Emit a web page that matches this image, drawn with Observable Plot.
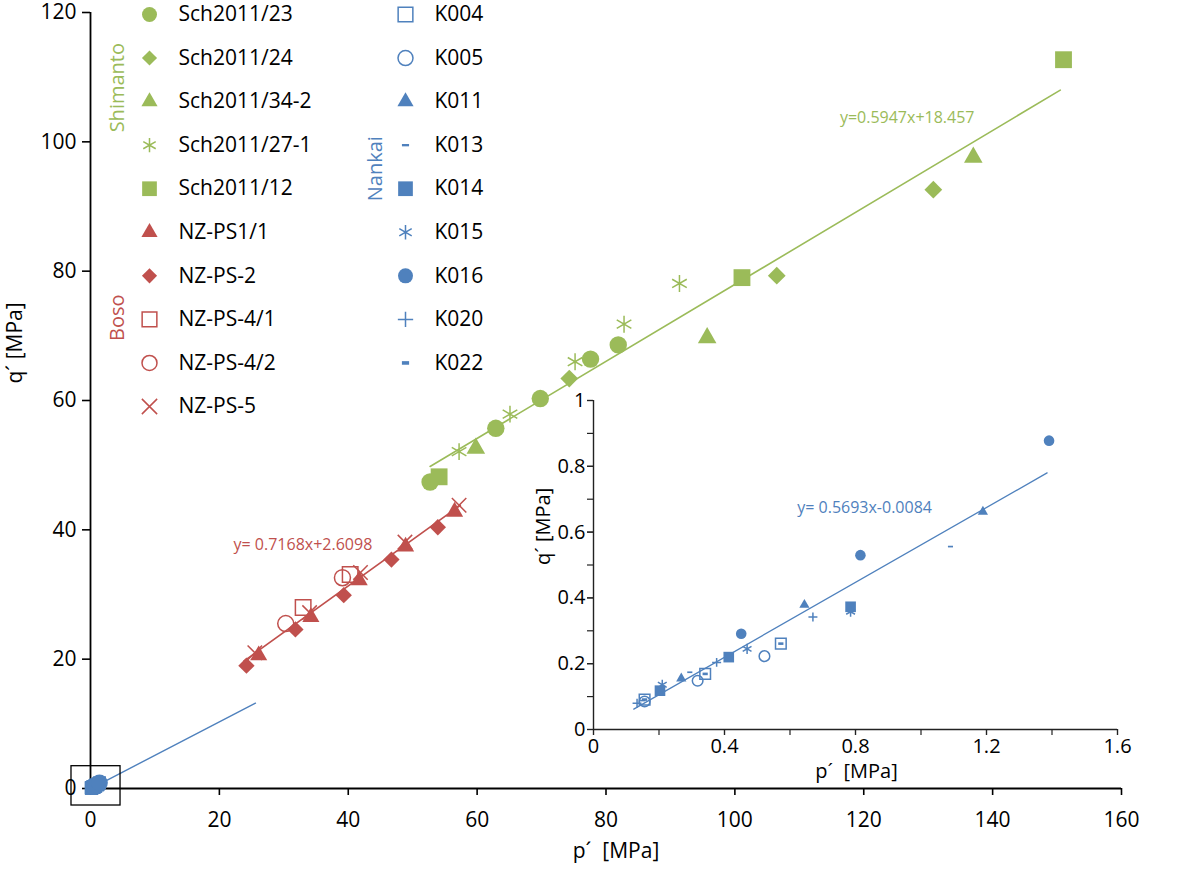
<!DOCTYPE html>
<html><head><meta charset="utf-8">
<script src="https://cdn.jsdelivr.net/npm/d3@7"></script>
<script src="https://cdn.jsdelivr.net/npm/@observablehq/plot@0.6"></script>
<style>
body{margin:0;background:#fff;}
#wrap{position:relative;width:1200px;height:869px;overflow:hidden;background:#fff;}
#wrap svg{position:absolute;overflow:visible;background:transparent;}
</style></head><body><div id="wrap"></div>
<script>
// ---------- data ----------
// Shimanto (p', q') in MPa
const sch2011_23   = [[52.7,47.4],[62.9,55.7],[69.8,60.3],[77.6,66.4],[81.9,68.6]];
const sch2011_24   = [[74.3,63.4],[106.5,79.3],[130.8,92.6]];
const sch2011_34_2 = [[59.8,52.6],[95.7,69.7],[137.0,97.6]];
const sch2011_27_1 = [[57.2,52.1],[65.1,57.9],[75.2,66.0],[82.8,71.8],[91.4,78.1]];
const sch2011_12   = [[54.1,48.2],[101.1,79.0],[151.0,112.7]];
// Boso
const nzps1_1  = [[26.1,20.6],[34.2,26.5],[41.7,32.2],[48.9,37.4],[56.5,42.8]];
const nzps_2   = [[24.2,19.0],[31.8,24.6],[39.3,29.9],[46.7,35.4],[53.9,40.4]];
const nzps_4_1 = [[33.0,28.0],[40.3,33.1]];
const nzps_4_2 = [[30.3,25.5],[39.1,32.6]];
const nzps_5   = [[25.5,21.0],[34.0,27.2],[41.9,33.4],[48.8,38.1],[57.2,43.8]];
// Nankai
const k004 = [[0.156,0.091],[0.341,0.169],[0.572,0.261]];
const k005 = [[0.156,0.085],[0.318,0.148],[0.522,0.223]];
const k011 = [[0.268,0.155],[0.644,0.379],[1.189,0.662]];
const k013 = [[0.150,0.088],[0.294,0.174],[1.090,0.556]];
const k014 = [[0.203,0.118],[0.413,0.220],[0.785,0.373]];
const k015 = [[0.210,0.136],[0.469,0.245],[0.785,0.358]];
const k016 = [[0.451,0.291],[0.815,0.530],[1.391,0.878]];
const k020 = [[0.133,0.080],[0.376,0.204],[0.670,0.342]];
const k022 = [[0.156,0.091],[0.341,0.169],[0.572,0.261]];

const seriesNames   = ["Sch2011/23","Sch2011/24","Sch2011/34-2","Sch2011/27-1","Sch2011/12",
                       "NZ-PS1/1","NZ-PS-2","NZ-PS-4/1","NZ-PS-4/2","NZ-PS-5",
                       "K004","K005","K011","K013","K014","K015","K016","K020","K022"];
const seriesGroups  = ["Shimanto","Shimanto","Shimanto","Shimanto","Shimanto",
                       "Boso","Boso","Boso","Boso","Boso",
                       "Nankai","Nankai","Nankai","Nankai","Nankai","Nankai","Nankai","Nankai","Nankai"];
const seriesSymbols = ["circle","diamond2","triangle","asterisk","square",
                       "triangle","diamond2","square","circle","times",
                       "square","circle","triangle","dash","square","asterisk","circle","plus","dashBold"];
const seriesFilled  = [true,true,true,false,true, true,true,false,false,false,
                       false,false,true,true,true,false,true,false,true];
const seriesData    = [sch2011_23,sch2011_24,sch2011_34_2,sch2011_27_1,sch2011_12,
                       nzps1_1,nzps_2,nzps_4_1,nzps_4_2,nzps_5,
                       k004,k005,k011,k013,k014,k015,k016,k020,k022];
const groupNames = ["Shimanto","Boso","Nankai"];

// trend lines (end points) and their equations
const trendShimanto   = [[52.7,49.8],[150.5,108.0]];
const trendBoso       = [[23.8,19.7],[57.4,43.8]];
const trendNankaiMain = [[2.6,1.3],[25.6,13.2]];
const trendNankaiInset= [[0.123,0.062],[1.385,0.780]];
const equations = ["y=0.5947x+18.457","y= 0.7168x+2.6098","y= 0.5693x-0.0084"];
const zoomBox = [[-2.95,-2.63,4.66,3.45]];

// axis ticks
const mainXTicks = [0,20,40,60,80,100,120,140,160];
const mainYTicks = [0,20,40,60,80,100,120];
const insetXTicks = [0,0.2,0.4,0.6,0.8,1.0,1.2,1.4,1.6];
const insetXLabelTicks = [0,0.4,0.8,1.2,1.6];
const insetYTicks = [0,0.1,0.2,0.3,0.4,0.5,0.6,0.7,0.8,0.9,1.0];
const insetYLabelTicks = [0,0.2,0.4,0.6,0.8,1.0];
const axisTitleX = "p´ \u00A0[MPa]";
const axisTitleY = "q´ [MPa]";

// ---------- styles ----------
const GREEN="#9BBB59", RED="#C0504D", BLUE="#4F81BD";
const groupColor = {Shimanto:GREEN, Boso:RED, Nankai:BLUE};
const FONT = '"Open Sans", sans-serif';
const dashThin = {draw(ctx,size){const r=Math.sqrt(size/Math.PI); ctx.rect(-0.85*r,-0.28*r,1.7*r,0.56*r);}};
const dashBold = {draw(ctx,size){const r=Math.sqrt(size/Math.PI); ctx.rect(-r,-0.5*r,2*r,r);}};
const sym = s => s==="dash" ? dashThin : s==="dashBold" ? dashBold : s;
const mainR  = {circle:8.7, square:9.5, triangle:6.9, diamond2:8.0, asterisk:8.0, times:7.2};
const bosoF  = 0.92;
const insetR = {circle:5.3, square:6.0, triangle:3.8, asterisk:4.8, plus:3.0, dash:3.0, dashBold:2.6};
const legR   = {circle:7.5, square:8.3, triangle:6.0, diamond2:6.8, asterisk:6.8, times:7.0, plus:5.0, dash:4.2, dashBold:3.6};

function dotsFor(i, rTable, factor=1){
  const s = seriesSymbols[i], c = groupColor[seriesGroups[i]], f = seriesFilled[i];
  return Plot.dot(seriesData[i], {x:d=>d[0], y:d=>d[1], symbol: sym(s), r: rTable[s]*factor,
    fill: f ? c : "none", stroke: f ? "none" : c, strokeWidth: 1.5});
}

const wrap = document.getElementById("wrap");
const baseStyle = {fontFamily:FONT, fontSize:"21px", color:"#000", background:"transparent", overflow:"visible"};

// ---------- main chart ----------
const nankaiAll = seriesData.slice(10).flat();
const mainMarks = [
  Plot.ruleX([0],{stroke:"#000",strokeWidth:1.8}),
  Plot.ruleY([0],{stroke:"#000",strokeWidth:1.8}),
  Plot.axisX({ticks:mainXTicks, tickSize:7, tickPadding:17, label:null, stroke:"#000", strokeWidth:1.6, fill:"#000", fontSize:21}),
  Plot.axisY({ticks:mainYTicks, tickSize:8, tickPadding:6, label:null, stroke:"#000", strokeWidth:1.6, fill:"#000", fontSize:21}),
  Plot.text([axisTitleX],{text:d=>d, frameAnchor:"bottom", dx:10, dy:69, fontSize:21, fill:"#000"}),
  Plot.text([axisTitleY],{text:d=>d, frameAnchor:"left", rotate:-90, dx:-75, dy:-17, fontSize:21, fill:"#000"}),
  Plot.line(trendNankaiMain,{x:d=>d[0], y:d=>d[1], stroke:BLUE, strokeWidth:1.4}),
  Plot.dot(nankaiAll,{x:d=>d[0], y:d=>d[1], symbol:"square", r:7.4, fill:BLUE}),
  Plot.dot(k016,{x:d=>d[0], y:d=>d[1], symbol:"circle", r:8.4, fill:BLUE}),
  Plot.rect(zoomBox,{x1:d=>d[0], y1:d=>d[1], x2:d=>d[2], y2:d=>d[3], fill:"none", stroke:"#000", strokeWidth:1.3}),
  Plot.line(trendShimanto,{x:d=>d[0], y:d=>d[1], stroke:GREEN, strokeWidth:1.6}),
  Plot.line(trendBoso,{x:d=>d[0], y:d=>d[1], stroke:RED, strokeWidth:1.6}),
];
for (let i=0;i<5;i++) mainMarks.push(dotsFor(i, mainR));
for (let i=5;i<10;i++) mainMarks.push(dotsFor(i, mainR, bosoF));
mainMarks.push(Plot.text([equations[0]],{text:d=>d, x:116.3, y:103.7, textAnchor:"start", fill:GREEN, fontSize:16}));
mainMarks.push(Plot.text([equations[1]],{text:d=>d, x:22.2, y:37.6, textAnchor:"start", fill:RED, fontSize:16}));

const main = Plot.plot({
  width:1200, height:869, marginLeft:90, marginRight:79, marginTop:12, marginBottom:81,
  x:{domain:[0,160]}, y:{domain:[0,120]},
  style: baseStyle, marks: mainMarks
});
main.style.left="0px"; main.style.top="0px";
wrap.appendChild(main);

// ---------- inset ----------
const fmt = v => String(+v.toFixed(1));
const insetMarks = [
  Plot.ruleX([0],{stroke:"#222",strokeWidth:1.4}),
  Plot.ruleY([0],{stroke:"#222",strokeWidth:1.4}),
  Plot.axisX({ticks:insetXTicks, tickSize:6, tickFormat:()=>"", label:null, stroke:"#222", strokeWidth:1.2}),
  Plot.axisX({ticks:insetXLabelTicks, tickSize:6, tickPadding:3, tickFormat:fmt, label:null, stroke:"#222", strokeWidth:1.2, fill:"#000", fontSize:20}),
  Plot.axisY({ticks:insetYTicks, tickSize:6, tickFormat:()=>"", label:null, stroke:"#222", strokeWidth:1.2}),
  Plot.axisY({ticks:insetYLabelTicks, tickSize:6, tickPadding:2, tickFormat:fmt, label:null, stroke:"#222", strokeWidth:1.2, fill:"#000", fontSize:20}),
  Plot.text([axisTitleX],{text:d=>d, frameAnchor:"bottom", dx:1, dy:48, fontSize:20, fill:"#000"}),
  Plot.text([axisTitleY],{text:d=>d, frameAnchor:"left", rotate:-90, dx:-50, dy:0, fontSize:20, fill:"#000"}),
  Plot.line(trendNankaiInset,{x:d=>d[0], y:d=>d[1], stroke:BLUE, strokeWidth:1.3}),
  Plot.text([equations[2]],{text:d=>d, x:0.622, y:0.675, textAnchor:"start", fill:BLUE, fontSize:16}),
];
for (let i=10;i<19;i++) insetMarks.push(dotsFor(i, insetR));
const inset = Plot.plot({
  width:640, height:420, marginLeft:93, marginRight:23, marginTop:20, marginBottom:71,
  x:{domain:[0,1.6]}, y:{domain:[0,1]},
  style: baseStyle, marks: insetMarks
});
inset.style.left="500px"; inset.style.top="380px";
wrap.appendChild(inset);

// ---------- legend ----------
const legendRows = seriesNames.map((name,i)=>{
  const g = seriesGroups[i];
  const col = g==="Nankai" ? 1 : 0;
  const row = g==="Nankai" ? i-10 : i;
  return {name, col, row, i};
});
const legMarks = [];
legendRows.forEach(d=>{
  const s = seriesSymbols[d.i], c = groupColor[seriesGroups[d.i]], f = seriesFilled[d.i];
  legMarks.push(Plot.dot([d],{x:"col", y:"row", symbol:sym(s), r:legR[s],
    fill: f ? c : "none", stroke: f ? "none" : c, strokeWidth:1.5}));
});
legMarks.push(Plot.text(legendRows,{x:"col", y:"row", text:"name", textAnchor:"start", dx:29, fill:"#000", fontSize:21}));
const groupAnchor = {Shimanto:[-0.125,1.68], Boso:[-0.125,6.96], Nankai:[0.883,3.54]};
legMarks.push(Plot.text(groupNames,{x:g=>groupAnchor[g][0], y:g=>groupAnchor[g][1], text:d=>d, rotate:-90,
  fill:g=>groupColor[g], fontSize:20}));
const legend = Plot.plot({
  width:520, height:440, marginLeft:149, marginRight:115, marginTop:14, marginBottom:34,
  x:{domain:[0,1], axis:null}, y:{domain:[0,9], reverse:true, axis:null},
  color:{type:"identity"},
  style: baseStyle, marks: legMarks
});
legend.style.left="0px"; legend.style.top="0px";
wrap.appendChild(legend);
</script>
</body></html>
